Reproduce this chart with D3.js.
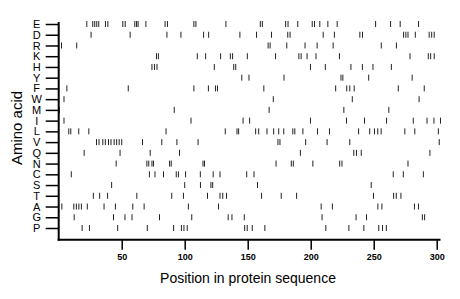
<!DOCTYPE html>
<html>
<head>
<meta charset="utf-8">
<script src="https://cdn.jsdelivr.net/npm/d3@7"></script>
<style>
  body { margin: 0; background: #fff; }
  svg { display: block; font-family: "Liberation Sans", Arial, sans-serif; }
</style>
</head>
<body>
<svg width="460" height="299"></svg>
<script>
// amino acids, top to bottom
const aminoAcids = ["E", "D", "R", "K", "H", "Y", "F", "W", "M", "I", "L", "V", "Q", "N", "C", "S", "T", "A", "G", "P"];
const xTicks = [50, 100, 150, 200, 250, 300];
const seqLength = 303;

// residue positions for each amino acid
const posE = [22.3, 27, 28.6, 30.2, 31.8, 37.1, 39, 50.9, 52.8, 60.4, 61.8, 63, 69.2, 84.4, 86.3, 107.3, 108.9, 132.7, 160, 161.6, 180.1, 182, 189.7, 201.2, 203, 207.2, 213.6, 221, 251.5, 263.4, 271, 285.6];
const posD = [25.7, 56.7, 85.9, 97, 115, 119, 143.8, 157, 168.9, 181.8, 183.6, 209.9, 218.8, 239, 241.1, 273.7, 275.5, 277.2, 283, 294, 296, 298];
const posR = [2.2, 14.3, 166.2, 167.8, 181, 195.5, 205.1, 217.8, 256, 268];
const posK = [77.6, 79.1, 110, 116.6, 128.5, 136.2, 138, 149.7, 172.1, 190.6, 192.4, 197.1, 204.2, 222.8, 278.8, 293.3, 295.2, 298];
const posH = [74, 76, 78, 123.5, 138.9, 140.5, 199.8, 211.6, 231.9, 241, 249.4, 264];
const posY = [145.3, 151, 178.8, 224, 225.5, 246, 280.5];
const posF = [6.5, 55.2, 107.3, 118.8, 124.4, 126, 162.8, 219.8, 228.6, 231, 234.5, 269.5, 290.1];
const posW = [4.2, 170.3, 233, 286];
const posM = [0.5, 91.7, 167, 226.3, 262];
const posI = [4.2, 105, 146.3, 151.5, 199.8, 228.4, 242.7, 260.2, 281.4, 292.3, 297.8, 303];
const posL = [8, 9.6, 15.9, 23.9, 85.2, 132.2, 141.5, 142.8, 156.3, 158.7, 165.3, 170.6, 174.6, 178.6, 185.8, 187.4, 193.8, 205.4, 214.9, 238, 246.8, 250.6, 253.2, 255.9, 274.7, 282.6, 301.3];
const posV = [30, 32, 35, 37, 39.5, 41.5, 44, 46, 48, 50, 66.5, 81.8, 93.8, 110.6, 174, 175.6, 196, 213, 231, 302];
const posQ = [20.2, 48.7, 72.6, 95.9, 191.8, 234.2, 236.3, 240.1, 294.6];
const posN = [45.6, 70, 71.5, 74, 75.2, 88, 89.3, 114.5, 115.7, 172.5, 184.6, 186.2, 201.7, 223, 224.8, 277.2];
const posC = [10, 72, 76.4, 83.2, 93.3, 95, 100.7, 112.4, 122.6, 128, 149.2, 155, 265.5, 273.5, 289.4];
const posS = [42, 100, 112.5, 120.8, 122.2, 157.8, 248];
const posT = [27.5, 32.5, 38.8, 62, 89.7, 99, 118.1, 128, 130.2, 133.2, 161, 176.6, 188.8, 249.8, 265.8, 267.9, 271.6];
const posA = [2.5, 12, 14, 16, 18, 22.7, 36, 45, 58.8, 67.8, 102.9, 126.8, 208.3, 217.2, 253.3, 256.5, 282.3, 285.5];
const posG = [12.3, 43.5, 52.6, 58.2, 80, 105.6, 134.5, 137.5, 147.3, 209, 236, 244.3, 288.6, 290.4];
const posP = [18.6, 24.4, 46.8, 70.3, 91.2, 97.4, 99.4, 102, 147.6, 149.6, 153.6, 163.6, 212, 230.3, 242.2, 254, 257, 260];

const positions = {
  E: posE, D: posD, R: posR, K: posK, H: posH, Y: posY, F: posF, W: posW, M: posM, I: posI,
  L: posL, V: posV, Q: posQ, N: posN, C: posC, S: posS, T: posT, A: posA, G: posG, P: posP
};

const svg = d3.select("svg");
const plotLeft = 58.7, plotRight = 440.5, rowTop = 24, rowBottom = 228, axisY = 239.7;

const x = d3.scaleLinear().domain([0, seqLength]).range([plotLeft, plotRight]);
const y = d3.scalePoint().domain(aminoAcids).range([rowTop, rowBottom]);

// build flat list of marks
const marks = [];
aminoAcids.forEach(aa => positions[aa].forEach(p => marks.push({ aa, p })));

svg.append("g")
    .selectAll("line")
    .data(marks)
    .join("line")
    .attr("x1", d => x(d.p))
    .attr("x2", d => x(d.p))
    .attr("y1", d => y(d.aa) - 3)
    .attr("y2", d => y(d.aa) + 3)
    .attr("stroke", "#222")
    .attr("stroke-width", 1);

// x axis
const xAxis = svg.append("g")
    .attr("transform", `translate(0,${axisY})`)
    .call(d3.axisBottom(x).tickValues(xTicks).tickSize(10).tickSizeOuter(0).tickPadding(4));
xAxis.select(".domain").remove();
xAxis.append("line")
    .attr("x1", x(0) - 1).attr("x2", x(seqLength))
    .attr("stroke", "#000").attr("stroke-width", 2);
xAxis.selectAll(".tick line").attr("stroke", "#000").attr("stroke-width", 1.5);
xAxis.selectAll(".tick text")
    .attr("fill", "#000")
    .style("font-size", "9px")
    .style("font-weight", "bold");

// y axis
const yAxis = svg.append("g")
    .attr("transform", `translate(${plotLeft},0)`)
    .call(d3.axisLeft(y).tickSize(13).tickSizeOuter(0).tickPadding(5));
yAxis.select(".domain").remove();
yAxis.append("line")
    .attr("y1", rowTop - 2).attr("y2", axisY + 1)
    .attr("stroke", "#000").attr("stroke-width", 2);
yAxis.selectAll(".tick line").attr("stroke", "#000").attr("stroke-width", 1.5);
yAxis.selectAll(".tick text")
    .attr("fill", "#000")
    .attr("text-anchor", "middle")
    .attr("x", -22)
    .style("font-size", "11px");

// titles
svg.append("text")
    .attr("x", 248)
    .attr("y", 283)
    .attr("text-anchor", "middle")
    .style("font-size", "14px")
    .text("Position in protein sequence");

svg.append("text")
    .attr("transform", "translate(22,128) rotate(-90)")
    .attr("text-anchor", "middle")
    .style("font-size", "15px")
    .text("Amino acid");
</script>
</body>
</html>
